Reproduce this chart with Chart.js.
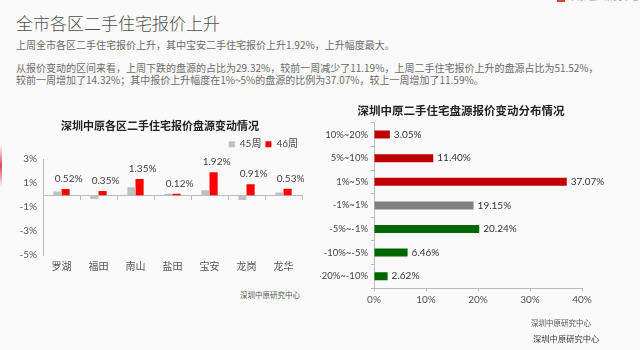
<!DOCTYPE html>
<html>
<head>
<meta charset="utf-8">
<script src="https://cdn.jsdelivr.net/npm/chart.js@4.4.1/dist/chart.umd.min.js"></script>
<style>
  html, body { margin: 0; padding: 0; }
  body {
    width: 640px; height: 350px; position: relative; overflow: hidden;
    background: #fafafa;
    font-family: "Noto Sans CJK SC", sans-serif;
  }
  .page-title {
    position: absolute; left: 16px; top: 9px; margin: 0;
    font-size: 17px; line-height: 28px; font-weight: 300; color: #505050;
  }
  .para {
    position: absolute; left: 16px; margin: 0;
    font-size: 10px; line-height: 12px; color: #6a6a6a; white-space: nowrap;
  }
  .source { position: absolute; color: #555; white-space: nowrap; }
  .edge-mark {
    position: absolute; left: 0; top: 145px; width: 2px; height: 42px;
    background: linear-gradient(to bottom, rgba(220,60,80,0), #dc4a5a, rgba(220,60,80,0));
  }
  .logo {
    position: absolute; left: 557px; top: -8px; font-size: 9px; line-height: 10px;
    color: #e8857a; white-space: nowrap;
  }
  .logo b { display: inline-block; width: 8px; height: 10px; background: #d9443a; margin-right: 3px; vertical-align: top; }
  canvas { position: absolute; }
  #districtChart { left: 0; top: 110px; }
  #rangeChart { left: 320px; top: 95px; }
</style>
</head>
<body>
<div class="logo"><b></b>中原地产研究中心</div>
<div class="edge-mark"></div>

<h1 class="page-title">全市各区二手住宅报价上升</h1>
<p class="para" style="top:39px">上周全市各区二手住宅报价上升，其中宝安二手住宅报价上升1.92%，上升幅度最大。</p>
<p class="para" style="top:62px">从报价变动的区间来看，上周下跌的盘源的占比为29.32%，较前一周减少了11.19%，上周二手住宅报价上升的盘源占比为51.52%，<br>较前一周增加了14.32%；其中报价上升幅度在1%~5%的盘源的比例为37.07%，较上一周增加了11.59%。</p>

<canvas id="districtChart" width="320" height="170"></canvas>
<canvas id="rangeChart" width="320" height="223"></canvas>

<div class="source" style="left:240px; top:289px; font-size:7.5px;">深圳中原研究中心</div>
<div class="source" style="left:531px; top:317px; font-size:7.5px;">深圳中原研究中心</div>
<div class="source" style="left:533px; top:332px; font-size:8.3px; color:#333;">深圳中原研究中心</div>

<script>
// weekly change of asking prices per district, in %
const districts = ['罗湖', '福田', '南山', '盐田', '宝安', '龙岗', '龙华'];
const week45 = [0.30, -0.32, 0.65, 0.11, 0.41, -0.41, 0.22];
const week46 = [0.52, 0.35, 1.35, 0.12, 1.92, 0.91, 0.53];
const weekNames = ['45周', '46周'];

// share of listings by size of price change, in %
const changeRanges = ['10%~20%', '5%~10%', '1%~5%', '-1%~1%', '-5%~-1%', '-10%~-5%', '-20%~-10%'];
const rangeShares = [3.05, 11.40, 37.07, 19.15, 20.24, 6.46, 2.62];
const rangeColors = ['#c00000', '#c00000', '#c00000', '#808080', '#006600', '#006600', '#006600'];

const districtTicks = [-5, -3, -1, 1, 3];
const rangeTicks = [0, 10, 20, 30, 40];

Chart.defaults.font.family = "Lato, 'Noto Sans CJK SC', sans-serif";
Chart.defaults.animation = false;

// value labels above the 46周 bars
const districtLabels = {
    id: 'districtLabels',
    afterDatasetsDraw(chart) {
        const ctx = chart.ctx;
        const meta = chart.getDatasetMeta(1);
        ctx.save();
        ctx.font = '10px Lato';
        ctx.fillStyle = '#404040';
        ctx.textAlign = 'center';
        ctx.textBaseline = 'middle';
        meta.data.forEach((bar, i) => {
            ctx.fillText(week46[i].toFixed(2) + '%', bar.x + 3, bar.y - 10);
        });
        ctx.restore();
    }
};

// value labels to the right of each horizontal bar
const rangeLabels = {
    id: 'rangeLabels',
    afterDatasetsDraw(chart) {
        const ctx = chart.ctx;
        const meta = chart.getDatasetMeta(0);
        ctx.save();
        ctx.font = '10px Lato';
        ctx.fillStyle = '#333';
        ctx.textAlign = 'left';
        ctx.textBaseline = 'middle';
        meta.data.forEach((bar, i) => {
            ctx.fillText(rangeShares[i].toFixed(2) + '%', bar.x + 4, bar.y);
        });
        ctx.restore();
    }
};

function drawDistrictChart() {
    const ctx = document.getElementById('districtChart').getContext('2d');
    new Chart(ctx, {
        type: 'bar',
        data: {
            labels: districts,
            datasets: [
                { label: weekNames[0], data: week45, backgroundColor: '#bfbfbf' },
                { label: weekNames[1], data: week46, backgroundColor: '#ff0000' }
            ]
        },
        options: {
            responsive: false,
            layout: { padding: { left: 18, right: 18, top: 0, bottom: 0 } },
            datasets: { bar: { categoryPercentage: 0.44, barPercentage: 1.0 } },
            plugins: {
                title: {
                    display: true,
                    text: '深圳中原各区二手住宅报价盘源变动情况',
                    color: '#222',
                    font: { size: 11, weight: 'bold' },
                    padding: { top: 10, bottom: 2 }
                },
                legend: {
                    display: true,
                    position: 'top',
                    align: 'end',
                    labels: { boxWidth: 6, boxHeight: 6, padding: 4, color: '#444', font: { size: 10 } }
                },
                tooltip: { enabled: false }
            },
            scales: {
                // axis line through zero with tick marks between districts
                x: {
                    type: 'category',
                    position: { y: 0 },
                    offset: true,
                    grid: { display: true, drawOnChartArea: false, drawTicks: true, tickLength: 4, color: '#bbb', offset: true },
                    border: { color: '#bbb' },
                    ticks: { display: false }
                },
                // district names along the bottom
                xLabels: {
                    type: 'category',
                    position: 'bottom',
                    offset: true,
                    grid: { display: false, drawTicks: false },
                    border: { display: false },
                    ticks: { padding: 6, color: '#555', font: { size: 10 } },
                    afterFit: s => { s.height = 25; }
                },
                y: {
                    min: districtTicks[0],
                    max: districtTicks[districtTicks.length - 1],
                    ticks: { stepSize: 2, padding: 6, color: '#555', font: { size: 10 }, callback: v => v + '%' },
                    grid: { display: false, drawTicks: false },
                    border: { color: '#bbb' },
                    afterFit: s => { s.width = 25; }
                }
            }
        },
        plugins: [districtLabels]
    });
}

function drawRangeChart() {
    const ctx = document.getElementById('rangeChart').getContext('2d');
    new Chart(ctx, {
        type: 'bar',
        data: {
            labels: changeRanges,
            datasets: [{ data: rangeShares, backgroundColor: rangeColors }]
        },
        options: {
            responsive: false,
            indexAxis: 'y',
            layout: { padding: { left: 0, right: 38, top: 0, bottom: 0 } },
            datasets: { bar: { categoryPercentage: 1.0, barPercentage: 0.34 } },
            plugins: {
                title: {
                    display: true,
                    text: '深圳中原二手住宅盘源报价变动分布情况',
                    color: '#222',
                    font: { size: 11.5, weight: 'bold' },
                    padding: { top: 9, bottom: 5 }
                },
                legend: { display: false },
                tooltip: { enabled: false }
            },
            scales: {
                x: {
                    min: rangeTicks[0],
                    max: rangeTicks[rangeTicks.length - 1],
                    ticks: { stepSize: 10, padding: 3, color: '#555', font: { size: 10 }, callback: v => v + '%' },
                    grid: { display: true, drawOnChartArea: false, tickLength: 3, color: '#bbb' },
                    border: { color: '#bbb' },
                    afterFit: s => { s.height = 30; }
                },
                y: {
                    grid: { display: true, drawOnChartArea: false, tickLength: 3, color: '#bbb', offset: true },
                    border: { color: '#bbb' },
                    ticks: { padding: 3, color: '#444', font: { size: 9.5 } },
                    afterFit: s => { s.width = 54; }
                },
                // empty strip on the right so the title sits over the whole figure
                ySpacer: {
                    type: 'category',
                    position: 'right',
                    grid: { display: false, drawTicks: false },
                    border: { display: false },
                    ticks: { display: false },
                    afterFit: s => { s.width = 20; }
                }
            }
        },
        plugins: [rangeLabels]
    });
}

drawDistrictChart();
drawRangeChart();
</script>
</body>
</html>
